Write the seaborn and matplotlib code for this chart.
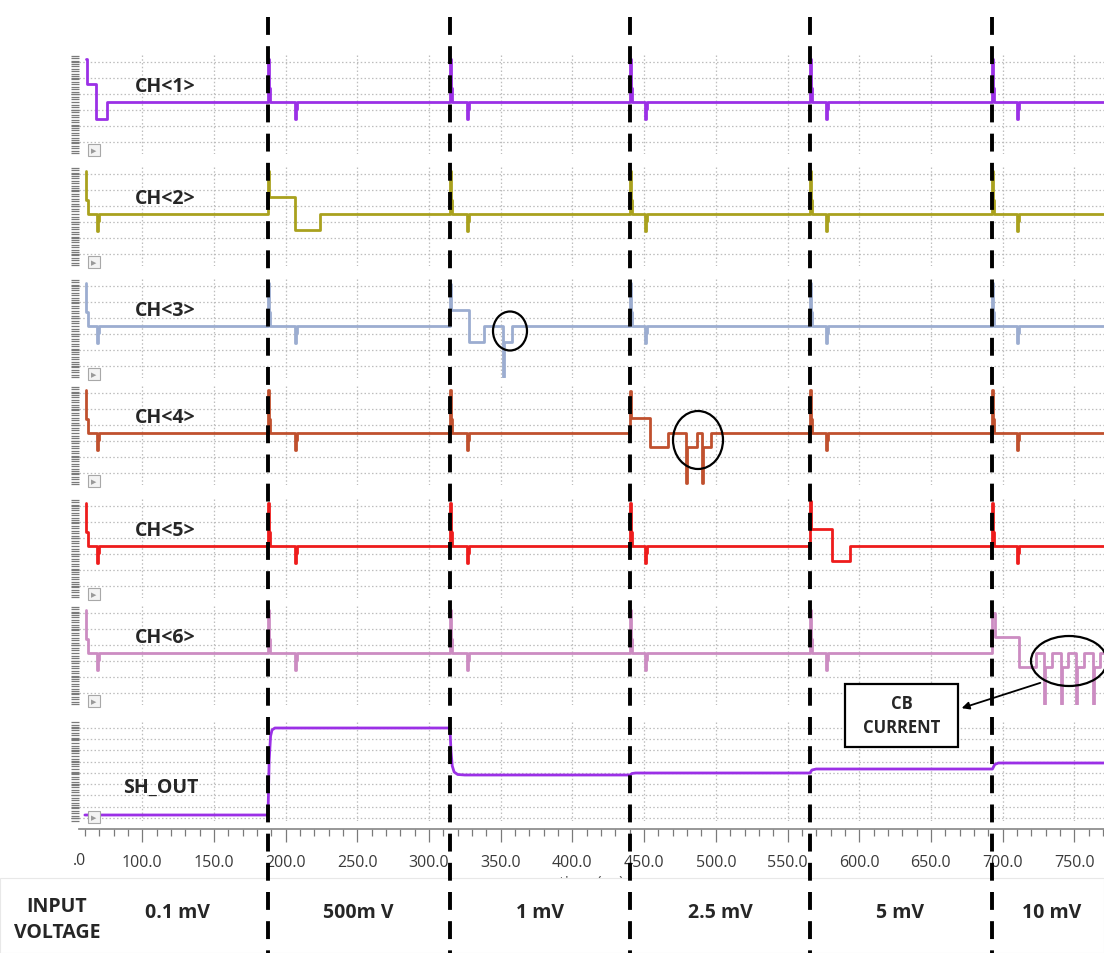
import matplotlib
matplotlib.use("Agg")
import matplotlib.pyplot as plt
from matplotlib.patches import Ellipse, Rectangle, FancyArrowPatch
from matplotlib.ticker import MultipleLocator, FormatStrFormatter
import numpy as np
import seaborn as sns

sns.set_theme(style="white")
plt.rcParams["font.family"] = ["Open Sans", "DejaVu Sans"]

# ---- values (time in us, channel levels in grid divisions) ----
EDGE_T = [60.5, 187.7, 314.6, 440.1, 565.6, 692.9]      # input steps, first one = start-up
GLITCH_T = [68.5, 206.6, 326.4, 450.6, 576.9, 710.0]    # small negative kick after each step
INPUT_LABELS = ["0.1 mV", "500m V", "1 mV", "2.5 mV", "5 mV", "10 mV"]
SPIKE_H = 2.7
GLITCH_H = -1.05

CHANNELS = ["CH<1>", "CH<2>", "CH<3>", "CH<4>", "CH<5>", "CH<6>"]
CH_COLORS = ["#9b30e6", "#a9a11e", "#9cadd0", "#c0502e", "#ee1c1c", "#cc8cc2"]

# comparator response of the channel that fires on its input step
CH1_RESP_T = [60.5, 61.4, 67.8, 75.5]
CH1_RESP_V = [2.7, 1.1, -1.05, 0.0]
CH2_RESP_T = [187.7, 188.4, 206.6, 224.0]
CH2_RESP_V = [2.7, 1.05, -1.0, 0.0]
CH3_RESP_T = [314.6, 315.3, 328.0, 338.4, 351.6, 352.4, 358.0]
CH3_RESP_V = [2.6, 1.0, -1.0, 0.0, -3.2, -1.0, 0.0]
CH4_RESP_T = [440.1, 440.8, 454.1, 466.6, 479.2, 480.0, 486.9, 490.4, 491.2, 496.5]
CH4_RESP_V = [2.6, 0.95, -0.9, 0.0, -3.1, -0.9, 0.0, -3.1, -0.9, 0.0]
CH5_RESP_T = [565.6, 566.5, 580.9, 593.5]
CH5_RESP_V = [2.8, 1.05, -0.95, 0.0]
CH6_RESP_T = [692.9, 694.5, 711.7, 723.6, 729.2, 729.9, 734.5, 740.4, 741.1,
              745.5, 751.5, 752.2, 756.8, 762.7, 763.4, 768.0]
CH6_RESP_V = [2.5, 1.0, -0.9, 0.0, -3.2, -0.9, 0.0, -3.2, -0.9,
              0.0, -3.2, -0.9, 0.0, -3.2, -0.9, 0.0]
RESPONSES = [(CH1_RESP_T, CH1_RESP_V), (CH2_RESP_T, CH2_RESP_V), (CH3_RESP_T, CH3_RESP_V),
             (CH4_RESP_T, CH4_RESP_V), (CH5_RESP_T, CH5_RESP_V), (CH6_RESP_T, CH6_RESP_V)]

# shaper output (fraction of its panel)
SH_T = [60.0, 187.7, 188.5, 189.5, 190.5, 192.5, 314.6, 315.3, 316.2, 317.5, 320.0, 325.0,
        440.1, 441.5, 444.0, 565.6, 567.0, 570.0, 692.9, 694.5, 697.0, 771.0]
SH_V = [0.06, 0.06, 0.60, 0.85, 0.91, 0.93, 0.93, 0.70, 0.55, 0.49, 0.465, 0.46,
        0.46, 0.475, 0.48, 0.48, 0.51, 0.52, 0.52, 0.565, 0.58, 0.58]

X_MIN, X_MAX = 55.9, 770.7

# ---- layout (pixels of a 1104x954 canvas) ----
W_PX, H_PX = 1104, 954
AX_LEFT_PX = 79
PANEL_TOP_PX = [55, 167, 279, 386, 499, 606, 722]
PANEL_H_PX = 100
LABEL_X_PX = [177, 358, 540, 720, 900, 1052]


def build_channel(idx):
    resp_t, resp_v = RESPONSES[idx]
    t, v = [], []
    for i, (te, tg) in enumerate(zip(EDGE_T, GLITCH_T)):
        if i == idx:
            t += resp_t
            v += resp_v
        else:
            t += [te, te + 0.6, te + 1.4, tg, tg + 0.8, tg + 1.6]
            v += [SPIKE_H, 0.9, 0.0, GLITCH_H, -0.45, 0.0]
    t.append(X_MAX + 1)
    v.append(0.0)
    return t, v


def style_panel(ax):
    ax.set_facecolor("none")
    for s in ax.spines.values():
        s.set_visible(False)
    ax.set_xlim(X_MIN, X_MAX)
    ax.xaxis.set_major_locator(MultipleLocator(50))
    ax.grid(True, which="major", linestyle=(0, (1.2, 1.8)), color="#bdbdbd", lw=0.9)
    ax.tick_params(axis="y", which="both", left=True, labelleft=False,
                   color="#7a7a7a", width=0.9, direction="out", length=6)
    ax.set_xlabel("")
    ax.set_ylabel("")


fig = plt.figure(figsize=(W_PX / 100, H_PX / 100), dpi=100)
fig.patch.set_facecolor("white")

L = AX_LEFT_PX / W_PX
Wd = (W_PX - AX_LEFT_PX) / W_PX
axes = []
for top in PANEL_TOP_PX:
    ax = fig.add_axes([L, (H_PX - top - PANEL_H_PX) / H_PX, Wd, PANEL_H_PX / H_PX])
    axes.append(ax)

for i, ax in enumerate(axes[:6]):
    t, v = build_channel(i)
    sns.lineplot(x=t, y=v, ax=ax, color=CH_COLORS[i], lw=2.0, drawstyle="steps-post",
                 estimator=None, sort=False, legend=False, zorder=3)
    style_panel(ax)
    ax.set_ylim(-3.25, 3.0)
    ax.set_yticks([-2.5, -1.5, -0.5, 0.5, 1.5, 2.5])
    ax.yaxis.set_minor_locator(MultipleLocator(0.16))
    ax.tick_params(axis="x", which="both", length=0, labelbottom=False)

sh = axes[6]
sns.lineplot(x=SH_T, y=SH_V, ax=sh, color=CH_COLORS[0], lw=2.0,
             estimator=None, sort=False, legend=False, zorder=3)
style_panel(sh)
sh.set_ylim(0, 1)
sh.set_yticks(np.arange(0.03, 1.0, 0.113))
sh.yaxis.set_minor_locator(MultipleLocator(0.026))
sh.spines["bottom"].set_visible(True)
sh.spines["bottom"].set_color("#8a8a8a")
sh.spines["bottom"].set_position(("outward", 6))
sh.xaxis.set_minor_locator(MultipleLocator(10))
sh.xaxis.set_major_formatter(FormatStrFormatter("%.1f"))
sh.tick_params(axis="x", which="both", bottom=True, color="#7a7a7a", width=0.9, direction="out")
sh.tick_params(axis="x", which="major", length=9, labelsize=11.5, labelcolor="#3a3a3a", pad=9)
sh.tick_params(axis="x", which="minor", length=5)
sh.set_xlabel("time (us)", fontsize=11.5, color="#555555", labelpad=3)

# white area under the plot region (hides the lower part of the axis title)
fig.add_artist(Rectangle((0, 0), 1, (H_PX - 879) / H_PX, transform=fig.transFigure,
                         facecolor="white", edgecolor="#e8e8e8", lw=0.8, zorder=1))

# dashed markers at the input steps
dash_ax = fig.add_axes([L, 0, Wd, 1], zorder=3)
dash_ax.set_xlim(X_MIN, X_MAX)
dash_ax.set_ylim(H_PX, 0)
dash_ax.axis("off")
for te in EDGE_T[1:]:
    ln, = dash_ax.plot([te, te], [18, H_PX], color="black", lw=2.8, solid_capstyle="butt")
    ln.set_dashes((4.6, 2.9))

# annotations in pixel space
ov = fig.add_axes([0, 0, 1, 1], zorder=4)
ov.set_xlim(0, W_PX)
ov.set_ylim(H_PX, 0)
ov.axis("off")

# clipped remainder of the "50.0" tick label at the left edge
ov.text(79, 861, ".0", fontsize=11.5, color="#3a3a3a", ha="center", va="center")

for name, top in zip(CHANNELS, PANEL_TOP_PX):
    ov.text(135, top + 32, name, fontsize=14, fontweight="bold", ha="left", va="center")
ov.text(123, PANEL_TOP_PX[6] + 66, "SH_OUT", fontsize=14, fontweight="bold", ha="left", va="center")

for top in PANEL_TOP_PX:
    ov.text(94, top + PANEL_H_PX - 4, "\u25b6", fontsize=5, color="#9a9a9a", ha="center",
            va="center", family=["DejaVu Sans"],
            bbox=dict(boxstyle="square,pad=0.45", facecolor="#f3f3f3", edgecolor="#a8a8a8", lw=0.8))

for (cx, cy, w, h) in [(510, 332, 34, 39), (698, 441, 50, 58), (1069, 662, 76, 50)]:
    ov.add_patch(Ellipse((cx, cy), w, h, fill=False, edgecolor="black", lw=1.6))

ov.add_patch(Rectangle((845, 685), 113, 63, facecolor="white", edgecolor="black", lw=1.6))
ov.text(902, 716, "CB\nCURRENT", fontsize=12, fontweight="bold", ha="center", va="center",
        linespacing=1.45)
ov.add_patch(FancyArrowPatch((1043, 683), (959, 710), arrowstyle="-|>", mutation_scale=11,
                             color="black", lw=1.3))

ov.text(57, 920, "INPUT\nVOLTAGE", fontsize=14, fontweight="bold", ha="center", va="center",
        linespacing=1.35)
for x, lab in zip(LABEL_X_PX, INPUT_LABELS):
    ov.text(x, 913, lab, fontsize=14, fontweight="bold", ha="center", va="center")

fig.savefig("out.png", dpi=100)
